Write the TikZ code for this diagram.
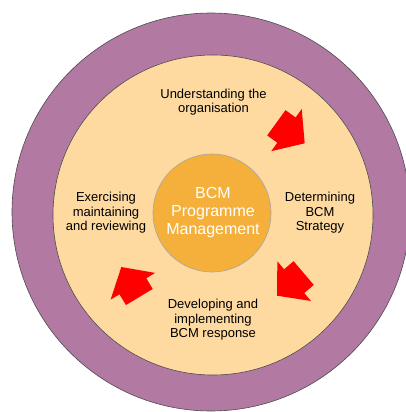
\documentclass[tikz,border=0pt]{standalone}
\usepackage{fontspec}
\setmainfont{Liberation Sans}
\usepackage{xcolor}
\usetikzlibrary{
  positioning
}
\definecolor{ringpurple}{RGB}{178,121,162}
\definecolor{discbeige}{RGB}{254,218,161}
\definecolor{huborange}{RGB}{245,176,60}
\tikzset{
  ringdisc/.style={
    circle,
    draw=gray!60!black,
    line width=0.6pt,
    inner sep=0pt,
  },
  stagetext/.style={
    align=center,
    text=black,
    font=\fontsize{13}{14.6}\selectfont,
  },
  hubtext/.style={
    align=center,
    text=white,
    font=\fontsize{16}{18}\selectfont,
  },
  cyclearrow/.pic={
    \fill[red] (0,0) -- (-22.5,26) -- (-22.5,15.6) -- (-35,15.6)
      -- (-35,-15.6) -- (-22.5,-15.6) -- (-22.5,-26) -- cycle;
  },
}

\begin{document}
\begin{tikzpicture}[
  x=1pt, y=-1pt,
]
  \useasboundingbox (0,0) rectangle (406,412);

  % Rings
  \node[ringdisc, fill=ringpurple, minimum size=398pt] (ring) at (211,212) {};
  \node[ringdisc, fill=discbeige, minimum size=320pt]  (disc) at (213,215) {};
  \node[ringdisc, fill=huborange, minimum size=118pt, draw=gray!70] (hub) at (212,213) {};

  % Hub text
  \node[hubtext] (hubtxt) at (213,213) {BCM\\Programme\\Management};

  % Stages round the hub
  \node[stagetext] (understand) at (213.5,102) {Understanding the\\organisation};
  \node[stagetext] (strategy)   at (320,213)   {Determining\\BCM\\Strategy};
  \node[stagetext] (develop)    at (213,320)   {Developing and\\implementing\\BCM response};
  \node[stagetext] (exercise)   at (106,213)   {Exercising\\maintaining\\and reviewing};

  % Red block arrows, clockwise
  \pic[rotate=-35.9]  (arrA) at (304.7,143.3) {cyclearrow};
  \pic[rotate=-139.7] (arrB) at (277,295.7)   {cyclearrow};
  \pic[rotate=121]    (arrC) at (121.3,267)   {cyclearrow};
\end{tikzpicture}
\end{document}
